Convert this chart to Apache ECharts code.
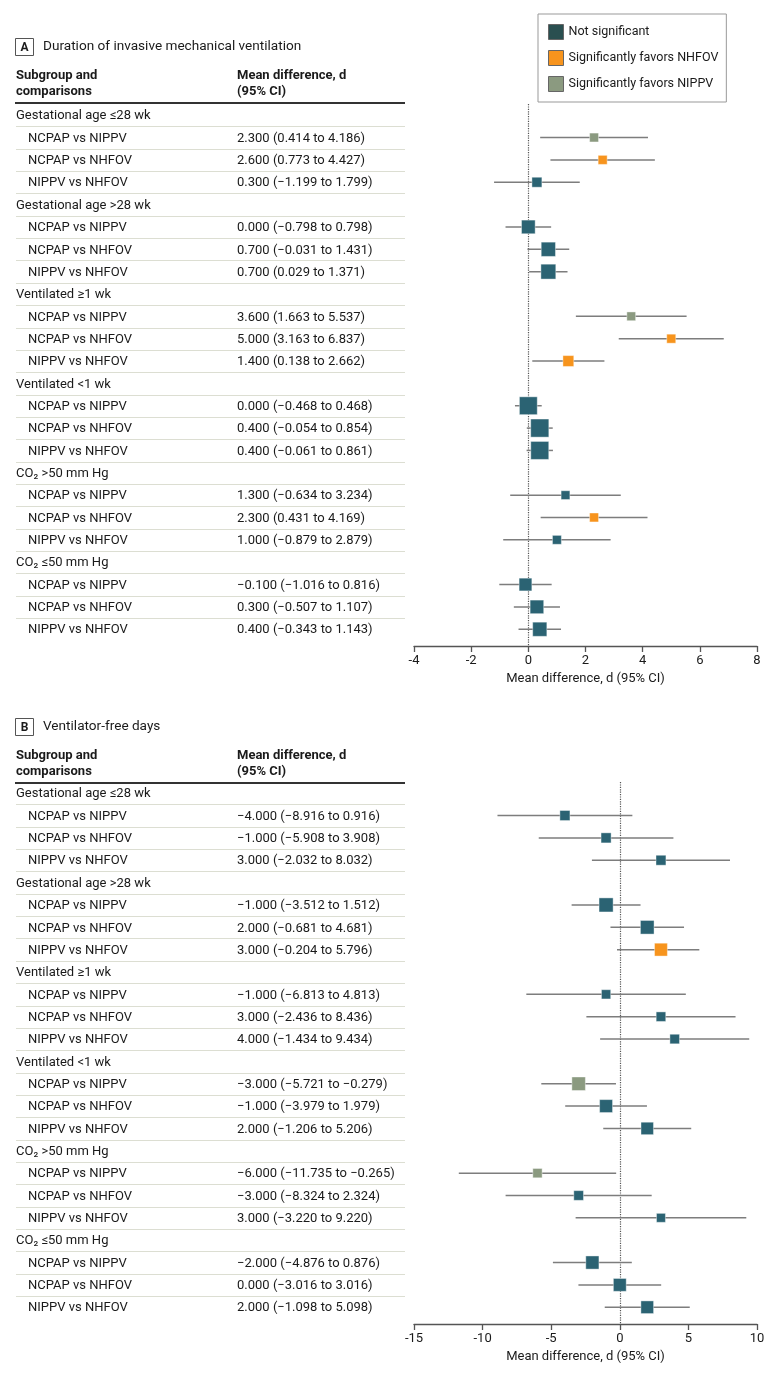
<!DOCTYPE html>
<html>
<head>
<meta charset="utf-8">
<script src="https://cdn.jsdelivr.net/npm/echarts@6/dist/echarts.min.js"></script>
<style>
  html, body { margin: 0; padding: 0; background: #fff; }
  #main { width: 780px; height: 1376px; }
</style>
</head>
<body>
<div id="main"></div>
<script>
// subgroups and comparisons (same for both panels)
var subgroups = ['Gestational age ≤28 wk', 'Gestational age >28 wk', 'Ventilated ≥1 wk',
                 'Ventilated <1 wk', 'CO₂ >50 mm Hg', 'CO₂ ≤50 mm Hg'];
var comparisons = ['NCPAP vs NIPPV', 'NCPAP vs NHFOV', 'NIPPV vs NHFOV'];

// A: duration of invasive mechanical ventilation
var meanA = [2.3, 2.6, 0.3,  0, 0.7, 0.7,  3.6, 5.0, 1.4,  0, 0.4, 0.4,  1.3, 2.3, 1.0,  -0.1, 0.3, 0.4];
var lowA  = [0.414, 0.773, -1.199,  -0.798, -0.031, 0.029,  1.663, 3.163, 0.138,
             -0.468, -0.054, -0.061,  -0.634, 0.431, -0.879,  -1.016, -0.507, -0.343];
var highA = [4.186, 4.427, 1.799,  0.798, 1.431, 1.371,  5.537, 6.837, 2.662,
             0.468, 0.854, 0.861,  3.234, 4.169, 2.879,  0.816, 1.107, 1.143];
// N = not significant, H = favors NHFOV, P = favors NIPPV
var sigA  = ['P', 'H', 'N',  'N', 'N', 'N',  'P', 'H', 'H',  'N', 'N', 'N',  'N', 'H', 'N',  'N', 'N', 'N'];

// B: ventilator-free days
var meanB = [-4, -1, 3,  -1, 2, 3,  -1, 3, 4,  -3, -1, 2,  -6, -3, 3,  -2, 0, 2];
var lowB  = [-8.916, -5.908, -2.032,  -3.512, -0.681, -0.204,  -6.813, -2.436, -1.434,
             -5.721, -3.979, -1.206,  -11.735, -8.324, -3.220,  -4.876, -3.016, -1.098];
var highB = [0.916, 3.908, 8.032,  1.512, 4.681, 5.796,  4.813, 8.436, 9.434,
             -0.279, 1.979, 5.206,  -0.265, 2.324, 9.220,  0.876, 3.016, 5.098];
var sigB  = ['N', 'N', 'N',  'N', 'N', 'H',  'N', 'N', 'N',  'P', 'N', 'N',  'P', 'N', 'N',  'N', 'N', 'N'];

var sigNames = { N: 'Not significant', H: 'Significantly favors NHFOV', P: 'Significantly favors NIPPV' };
var sigColors = { N: '#2b6373', H: '#f7941d', P: '#8b9a80' };

var FONT = 'Roboto, "Liberation Sans", sans-serif';
var NROWS = subgroups.length * 4;

function fmt(v) {
    return (v < 0 ? '−' : '') + Math.abs(v).toFixed(3);
}
function rowOf(k) {
    return Math.floor(k / 3) * 4 + (k % 3) + 1;
}

// table rows for one panel
function buildRows(mean, low, high) {
    var rows = [];
    for (var g = 0; g < subgroups.length; g++) {
        rows.push({ row: g * 4, label: subgroups[g], group: true });
        for (var c = 0; c < 3; c++) {
            var k = g * 3 + c;
            rows.push({ row: g * 4 + c + 1, label: comparisons[c], group: false,
                        value: fmt(mean[k]) + ' (' + fmt(low[k]) + ' to ' + fmt(high[k]) + ')' });
        }
    }
    return rows;
}

function tableSeries(rows, gi) {
    return {
        type: 'custom',
        xAxisIndex: gi, yAxisIndex: gi,
        silent: true,
        clip: false,
        data: rows.map(function (r) { return [0, r.row]; }),
        encode: { x: 0, y: 1 },
        renderItem: function (params, api) {
            var r = rows[params.dataIndex];
            var y = api.coord([0, r.row])[1] + 1;
            var kids = [{
                type: 'text',
                style: { text: r.label, x: r.group ? 16 : 28, y: y, font: '13px ' + FONT,
                         fill: '#1a1a1a', textAlign: 'left', textVerticalAlign: 'middle' }
            }];
            if (!r.group) {
                kids.push({
                    type: 'text',
                    style: { text: r.value, x: 237, y: y, font: '13px ' + FONT,
                             fill: '#1a1a1a', textAlign: 'left', textVerticalAlign: 'middle' }
                });
            }
            if (r.row < NROWS - 1) {
                var yb = Math.round(api.coord([0, r.row + 0.5])[1]) + 0.5;
                kids.push({
                    type: 'line',
                    shape: { x1: 16, y1: yb, x2: 405, y2: yb },
                    style: { stroke: '#dcded2', lineWidth: 1 }
                });
            }
            return { type: 'group', children: kids };
        }
    };
}

function errorSeries(low, high, gi) {
    var data = [];
    for (var k = 0; k < low.length; k++) data.push([rowOf(k), low[k], high[k]]);
    return {
        type: 'custom',
        xAxisIndex: gi, yAxisIndex: gi,
        silent: true,
        z: 3,
        data: data,
        encode: { x: [1, 2], y: 0 },
        renderItem: function (params, api) {
            var p1 = api.coord([api.value(1), api.value(0)]);
            var p2 = api.coord([api.value(2), api.value(0)]);
            return { type: 'line', shape: { x1: p1[0], y1: p1[1], x2: p2[0], y2: p2[1] },
                     style: { stroke: '#7d7d7d', lineWidth: 1.5 } };
        },
        markLine: {
            silent: true, symbol: 'none', z: 1,
            label: { show: false },
            lineStyle: { type: 'dotted', color: '#555', width: 1.2 },
            data: [{ xAxis: 0 }]
        }
    };
}

// squares: size shrinks with CI width (weight)
function pointSeries(mean, low, high, sig, gi, k0) {
    return ['N', 'H', 'P'].map(function (s) {
        var data = [];
        for (var k = 0; k < mean.length; k++) {
            if (sig[k] === s) data.push([mean[k], rowOf(k), (high[k] - low[k]) / 2]);
        }
        return {
            name: sigNames[s],
            type: 'scatter',
            xAxisIndex: gi, yAxisIndex: gi,
            symbol: 'rect',
            z: 5,
            symbolSize: function (v) { return k0 / Math.sqrt(v[2]); },
            itemStyle: { color: sigColors[s], opacity: 1, borderColor: 'rgba(255,255,255,0.5)', borderWidth: 0.8 },
            data: data
        };
    });
}

var rowsA = buildRows(meanA, lowA, highA);
var rowsB = buildRows(meanB, lowB, highB);

function xAxisCfg(gi, min, max, interval) {
    return {
        gridIndex: gi, type: 'value', min: min, max: max, interval: interval,
        position: 'bottom',
        name: 'Mean difference, d (95% CI)', nameLocation: 'middle', nameGap: 26,
        nameTextStyle: { fontSize: 13, color: '#1a1a1a', fontFamily: FONT },
        axisLine: { onZero: false, lineStyle: { color: '#555', width: 1.3 } },
        axisTick: { length: 6, lineStyle: { color: '#555', width: 1.3 } },
        axisLabel: { fontSize: 13, color: '#1a1a1a', fontFamily: FONT, margin: 8 },
        splitLine: { show: false }
    };
}
function yAxisCfg(gi) {
    return { gridIndex: gi, type: 'value', inverse: true, min: -0.5, max: NROWS - 0.25, show: false };
}

function headerGraphics(dy, letter, title) {
    var bold = 'bold 13px ' + FONT;
    return [
        { type: 'rect', shape: { x: 15.5, y: 38.5 + dy, width: 18, height: 17 },
          style: { fill: '#fff', stroke: '#555', lineWidth: 1 } },
        { type: 'text', style: { text: letter, x: 24.5, y: 47.5 + dy, font: 'bold 12px ' + FONT,
          fill: '#1a1a1a', textAlign: 'center', textVerticalAlign: 'middle' } },
        { type: 'text', style: { text: title, x: 43, y: 47 + dy, font: '13.6px ' + FONT,
          fill: '#1a1a1a', textVerticalAlign: 'middle' } },
        { type: 'text', style: { text: 'Subgroup and', x: 16, y: 76 + dy, font: bold, fill: '#1a1a1a', textVerticalAlign: 'middle' } },
        { type: 'text', style: { text: 'comparisons', x: 16, y: 92 + dy, font: bold, fill: '#1a1a1a', textVerticalAlign: 'middle' } },
        { type: 'text', style: { text: 'Mean difference, d', x: 237, y: 76 + dy, font: bold, fill: '#1a1a1a', textVerticalAlign: 'middle' } },
        { type: 'text', style: { text: '(95% CI)', x: 237, y: 92 + dy, font: bold, fill: '#1a1a1a', textVerticalAlign: 'middle' } },
        { type: 'line', shape: { x1: 15, y1: 103 + dy, x2: 405, y2: 103 + dy },
          style: { stroke: '#333', lineWidth: 1.8 } }
    ];
}

var myChart = echarts.init(document.getElementById('main'), null, { renderer: 'canvas' });
var option = {
    animation: false,
    backgroundColor: '#fff',
    textStyle: { fontFamily: FONT },
    grid: [
        { left: 414, width: 343, top: 104, height: 542 },
        { left: 414, width: 343, top: 782, height: 542 }
    ],
    xAxis: [xAxisCfg(0, -4, 8, 2), xAxisCfg(1, -15, 10, 5)],
    yAxis: [yAxisCfg(0), yAxisCfg(1)],
    legend: {
        left: 538, top: 14,
        orient: 'vertical',
        padding: [10, 8, 10, 10],
        itemWidth: 15, itemHeight: 15, itemGap: 10,
        backgroundColor: '#fff',
        borderColor: '#999', borderWidth: 1,
        selectedMode: false,
        textStyle: { fontSize: 12.5, color: '#1a1a1a', fontFamily: FONT, padding: [0, 0, 0, 0] },
        itemStyle: { borderColor: '#666', borderWidth: 1 },
        data: [
            { name: sigNames.N, icon: 'rect', itemStyle: { color: '#2a4f50' } },
            { name: sigNames.H, icon: 'rect' },
            { name: sigNames.P, icon: 'rect' }
        ]
    },
    graphic: headerGraphics(0, 'A', 'Duration of invasive mechanical ventilation')
        .concat(headerGraphics(680, 'B', 'Ventilator-free days')),
    series: [tableSeries(rowsA, 0), tableSeries(rowsB, 1),
             errorSeries(lowA, highA, 0), errorSeries(lowB, highB, 1)]
        .concat(pointSeries(meanA, lowA, highA, sigA, 0, 12.2))
        .concat(pointSeries(meanB, lowB, highB, sigB, 1, 22.3))
};
myChart.setOption(option);
</script>
</body>
</html>
